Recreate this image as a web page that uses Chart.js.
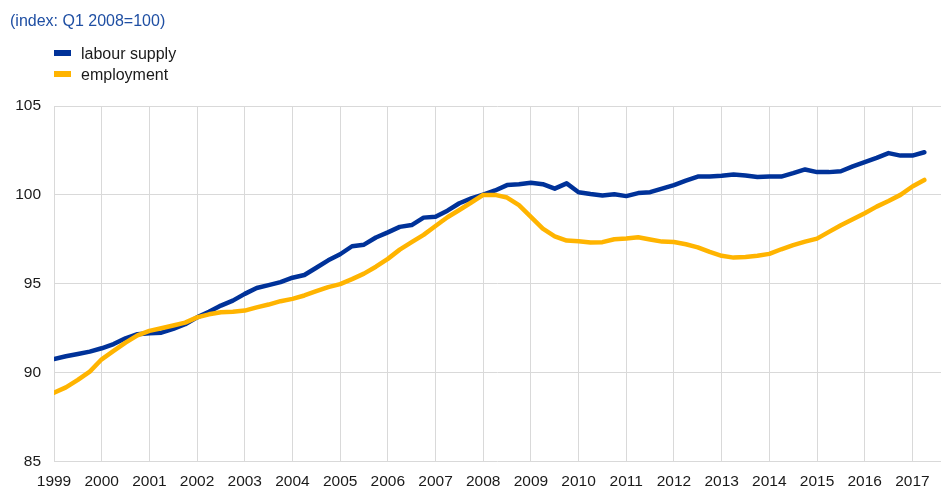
<!DOCTYPE html>
<html>
<head>
<meta charset="utf-8">
<script src="https://cdn.jsdelivr.net/npm/chart.js@4.4.1/dist/chart.umd.min.js"></script>
<style>
  html, body { margin: 0; padding: 0; background: #fff; }
  #wrap { position: relative; width: 942px; height: 487px; }
  #c { position: absolute; left: 0; top: 0; }
  .title { position: absolute; left: 10px; top: 12px; font: 16px "Liberation Sans", Arial, sans-serif; color: #1f4fa3; }
  .leg { position: absolute; left: 54px; font: 16px "Liberation Sans", Arial, sans-serif; color: #1a1a1a; }
  .leg span.sw { display: inline-block; width: 17px; height: 6px; vertical-align: middle; margin-right: 10px; position: relative; top: -2px; }
</style>
</head>
<body>
<div id="wrap">
  <canvas id="c" width="942" height="487"></canvas>
  <div class="title">(index: Q1 2008=100)</div>
  <div class="leg" style="top:45px"><span class="sw" style="background:#003299"></span>labour supply</div>
  <div class="leg" style="top:66px"><span class="sw" style="background:#ffb400"></span>employment</div>
</div>
<script>
// Quarterly data, 1999 Q1 .. 2017 Q2
const firstYear = 1999;
const yearTicks = [1999,2000,2001,2002,2003,2004,2005,2006,2007,2008,2009,2010,2011,2012,2013,2014,2015,2016,2017];
const yTicks = [85, 90, 95, 100, 105];
const seriesNames = ['labour supply', 'employment'];

const labourSupply = [
  90.77, 90.92, 91.05, 91.18,
  91.37, 91.61, 91.93, 92.16,
  92.21, 92.25, 92.46, 92.72,
  93.11, 93.43, 93.77, 94.05,
  94.43, 94.76, 94.92, 95.09,
  95.34, 95.49, 95.90, 96.32,
  96.66, 97.11, 97.20, 97.60,
  97.89, 98.20, 98.30, 98.72,
  98.77, 99.11, 99.53, 99.80,
  100.02, 100.25, 100.55, 100.60,
  100.68, 100.60, 100.35, 100.65,
  100.15, 100.05, 99.97, 100.03,
  99.93, 100.10, 100.15, 100.35,
  100.55, 100.80, 101.03, 101.03,
  101.07, 101.14, 101.09, 101.01,
  101.03, 101.03, 101.22, 101.43,
  101.28, 101.28, 101.33, 101.60,
  101.84, 102.08, 102.35, 102.21,
  102.21, 102.40
];

const employment = [
  88.87, 89.17, 89.59, 90.06,
  90.75, 91.22, 91.69, 92.10,
  92.35, 92.50, 92.65, 92.81,
  93.11, 93.28, 93.40, 93.43,
  93.49, 93.67, 93.83, 94.02,
  94.15, 94.34, 94.58, 94.81,
  94.98, 95.26, 95.57, 95.96,
  96.40, 96.92, 97.34, 97.75,
  98.25, 98.74, 99.15, 99.57,
  100.00, 100.00, 99.85, 99.42,
  98.76, 98.10, 97.67, 97.43,
  97.39, 97.32, 97.34, 97.50,
  97.54, 97.62, 97.49, 97.37,
  97.35, 97.22, 97.05, 96.79,
  96.57, 96.47, 96.51, 96.57,
  96.68, 96.94, 97.17, 97.37,
  97.54, 97.92, 98.29, 98.63,
  98.97, 99.34, 99.66, 100.00,
  100.47, 100.84
];

const toPoints = arr => arr.map((v, i) => ({ x: firstYear + i / 4, y: v }));

const font = { family: '"Liberation Sans", Arial, sans-serif', size: 15.5 };

new Chart(document.getElementById('c'), {
  type: 'line',
  data: {
    datasets: [
      { label: seriesNames[0], data: toPoints(labourSupply), borderColor: '#003299', backgroundColor: '#003299',
        borderWidth: 4.5, pointRadius: 0, tension: 0, borderJoinStyle: 'round', borderCapStyle: 'round', order: 1 },
      { label: seriesNames[1], data: toPoints(employment), borderColor: '#ffb400', backgroundColor: '#ffb400',
        borderWidth: 4.5, pointRadius: 0, tension: 0, borderJoinStyle: 'round', borderCapStyle: 'round', order: 0 }
    ]
  },
  options: {
    responsive: false,
    animation: false,
    layout: { padding: { top: 106, right: 1, left: 0, bottom: 0 } },
    plugins: { legend: { display: false }, tooltip: { enabled: false }, title: { display: false } },
    scales: {
      x: {
        type: 'linear',
        min: 1999,
        max: 2017.6,
        afterBuildTicks: s => { s.ticks = yearTicks.map(v => ({ value: v })); },
        afterFit: s => { s.height = 25.5; },
        ticks: { font, color: '#1a1a1a', padding: 11, maxRotation: 0, autoSkip: false, callback: v => String(v) },
        grid: { color: '#d9d9d9', lineWidth: 1, drawTicks: false },
        border: { display: false }
      },
      y: {
        min: 85,
        max: 105,
        afterBuildTicks: s => { s.ticks = yTicks.map(v => ({ value: v })); },
        afterFit: s => { s.width = 54; },
        ticks: { font, color: '#1a1a1a', padding: 13 },
        grid: { color: '#d9d9d9', lineWidth: 1, drawTicks: false },
        border: { display: false }
      }
    }
  }
});
</script>
</body>
</html>
